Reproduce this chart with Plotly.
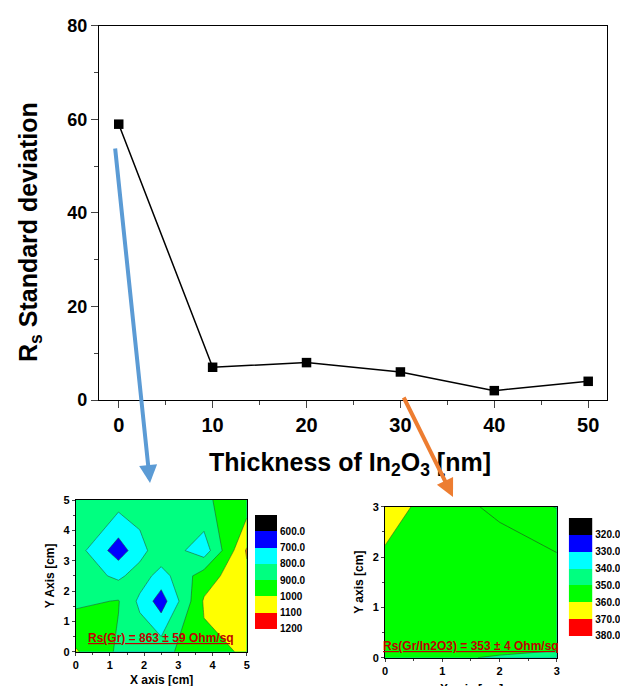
import plotly.graph_objects as go

# ---------------- data ----------------
thickness = [0, 10, 20, 30, 40, 50]
rs_std = [59, 7, 8, 6, 2, 4]

# Rs map of bare graphene (values in Ohm/sq)
gr_x = [0, 1.25, 1.875, 2.5, 3.75, 5]
gr_y = [0, 1.667, 2.5, 3.333, 5]
gr_z = [
    [1010, 885, 875, 864, 980, 1008],
    [880, 905, 778, 650, 1010, 1050],
    [864, 778, 850, 760, 950, 1080],
    [847, 650, 760, 870, 745, 1110],
    [850, 847, 858, 870, 890, 938],
]
gr_levels = [600, 700, 800, 900, 1000, 1100, 1200]
gr_labels = ["600.0", "700.0", "800.0", "900.0", "1000", "1100", "1200"]
gr_text = "Rs(Gr) = 863 \u00b1 59 Ohm/sq"

# Rs map of graphene / In2O3
ito_x = [0, 1, 2, 3]
ito_y = [0, 1, 2, 3]
ito_z = [
    [353, 350.5, 349.7, 349.2],
    [356, 356, 355.7, 355],
    [359.7, 359, 359.5, 355.5],
    [361, 358.8, 353, 349.8],
]
ito_levels = [320, 330, 340, 350, 360, 370, 380]
ito_labels = ["320.0", "330.0", "340.0", "350.0", "360.0", "370.0", "380.0"]
ito_text = "Rs(Gr/In2O3) = 353 \u00b1 4 Ohm/sq"

band_colors = ["#000000", "#0000FF", "#00FFFF", "#00FF80", "#00FF00", "#FFFF00", "#FF0000"]

# ---------------- helpers ----------------
FONT = "Liberation Sans, Arial, sans-serif"
n = len(band_colors)
cscale = []
for i, c in enumerate(band_colors):
    lo = max(0.0, (i - 0.5) / (n - 1))
    hi = min(1.0, (i + 0.5) / (n - 1))
    cscale += [[lo, c], [hi, c]]


def band_edges(levels):
    step = levels[1] - levels[0]
    return [levels[0] - step] + list(levels)


def band_centers(levels):
    e = band_edges(levels)
    return [[(e[i] + e[i + 1]) / 2] for i in range(len(e) - 1)]


fig = go.Figure()

# main line chart
fig.add_trace(go.Scatter(
    x=thickness, y=rs_std, mode="lines+markers",
    line=dict(color="black", width=1.5),
    marker=dict(symbol="square", size=9.5, color="black"),
    xaxis="x", yaxis="y", showlegend=False, cliponaxis=False))

LINE = dict(color="rgba(40,70,40,0.75)", width=0.7, smoothing=0)

# left contour map
fig.add_trace(go.Contour(
    x=gr_x, y=gr_y, z=gr_z, xaxis="x2", yaxis="y2",
    colorscale=cscale, zmin=gr_levels[0], zmax=gr_levels[-2],
    contours=dict(start=gr_levels[0], end=gr_levels[-2],
                  size=gr_levels[1] - gr_levels[0], coloring="fill"),
    line=LINE, showscale=False, hoverinfo="skip"))

# left legend boxes
fig.add_trace(go.Heatmap(
    x=[0, 1], y=band_edges(gr_levels), z=band_centers(gr_levels),
    xaxis="x3", yaxis="y3", colorscale=cscale,
    zmin=band_centers(gr_levels)[0][0], zmax=band_centers(gr_levels)[-1][0],
    showscale=False, hoverinfo="skip"))

# right contour map
fig.add_trace(go.Contour(
    x=ito_x, y=ito_y, z=ito_z, xaxis="x4", yaxis="y4",
    colorscale=cscale, zmin=ito_levels[0], zmax=ito_levels[-2],
    contours=dict(start=ito_levels[0], end=ito_levels[-2],
                  size=ito_levels[1] - ito_levels[0], coloring="fill"),
    line=LINE, showscale=False, hoverinfo="skip"))

# intermediate iso-line (355) in the upper part of the right map
mid_level = (ito_levels[3] + ito_levels[4]) / 2
fig.add_trace(go.Contour(
    x=ito_x, y=ito_y[2:], z=ito_z[2:], xaxis="x4", yaxis="y4",
    contours=dict(start=mid_level, end=mid_level, size=10, coloring="none"),
    line=dict(color="rgba(30,90,30,0.85)", width=0.8, smoothing=0),
    showscale=False, hoverinfo="skip"))

# right legend boxes
fig.add_trace(go.Heatmap(
    x=[0, 1], y=band_edges(ito_levels), z=band_centers(ito_levels),
    xaxis="x5", yaxis="y5", colorscale=cscale,
    zmin=band_centers(ito_levels)[0][0], zmax=band_centers(ito_levels)[-1][0],
    showscale=False, hoverinfo="skip"))


def bold(s):
    return dict(family=FONT, size=s, color="black", weight="bold")


main_x = dict(domain=[0.1597, 0.979], range=[-2.1, 52.0], anchor="y", automargin=False,
              tickmode="array", tickvals=thickness, ticks="outside", ticklen=7,
              tickwidth=1.2, minor=dict(dtick=5, ticks="outside", ticklen=4, tickwidth=1.2),
              showline=True, mirror=True, linecolor="black", linewidth=1.3,
              showgrid=False, zeroline=False, tickfont=bold(20))
main_y = dict(domain=[0.4169, 0.9621], range=[0, 80], anchor="x", automargin=False,
              dtick=20, ticks="outside", ticklen=7, tickwidth=1.2,
              minor=dict(dtick=10, ticks="outside", ticklen=4, tickwidth=1.2),
              showline=True, mirror=True, linecolor="black", linewidth=1.3,
              showgrid=False, zeroline=False, tickfont=bold(18))


def inset_axes(dom_x, dom_y, rng, anchor_x, anchor_y, yt):
    common = dict(ticks="outside", ticklen=3, tickwidth=1, dtick=1, automargin=False,
                  minor=dict(dtick=0.5, ticks="outside", ticklen=2),
                  showline=True, mirror=True, linecolor="black", linewidth=1,
                  showgrid=False, zeroline=False, tickfont=bold(11))
    ax = dict(common, domain=dom_x, range=rng, anchor=anchor_y)
    ay = dict(common, domain=dom_y, range=rng, anchor=anchor_x,
              title=dict(text="<b>%s</b>" % yt, font=bold(12), standoff=6))
    return ax, ay


x2, y2 = inset_axes([0.1221, 0.3979], [0.05, 0.2711], [0, 5], "x2", "y2", "Y Axis [cm]")
x4, y4 = inset_axes([0.621, 0.8979], [0.0413, 0.2614], [0, 3], "x4", "y4", "Y axis [cm]")


def legend_axes(dom_x, dom_y, levels, labels, anchor_x, anchor_y):
    e = band_edges(levels)
    ax = dict(domain=dom_x, range=[0, 1], anchor=anchor_y, visible=False, automargin=False)
    ay = dict(domain=dom_y, range=[e[-1], e[0]], anchor=anchor_x, side="right",
              tickmode="array", tickvals=levels, ticktext=labels, ticks="",
              showline=False, showgrid=False, zeroline=False, tickfont=bold(10),
              ticklabelstandoff=2, automargin=False)
    return ax, ay


x3, y3 = legend_axes([0.4113, 0.4468], [0.0831, 0.2493], gr_levels, gr_labels, "x3", "y3")
x5, y5 = legend_axes([0.9173, 0.9553], [0.0729, 0.2449], ito_levels, ito_labels, "x5", "y5")

annotations = [
    # main axis titles
    dict(text="<b>Thickness of In<sub>2</sub>O<sub>3</sub> [nm]</b>", xref="paper", yref="paper",
         x=350 / 620, y=1 - 464 / 686, showarrow=False, font=bold(25),
         xanchor="center", yanchor="middle"),
    dict(text="<b>R<sub>s</sub> Standard deviation</b>", xref="paper", yref="paper",
         x=30 / 620, y=1 - 232 / 686, showarrow=False, font=bold(25), textangle=-90,
         xanchor="center", yanchor="middle"),
    # inset x titles
    dict(text="<b>X axis [cm]</b>", xref="paper", yref="paper",
         x=161 / 620, y=1 - 680 / 686, showarrow=False, font=bold(12),
         xanchor="center", yanchor="middle"),
    dict(text="<b>X axis [cm]</b>", xref="paper", yref="paper",
         x=472 / 620, y=1 - 680 / 686, showarrow=False, font=bold(12),
         xanchor="center", yanchor="top"),
    # inset captions
    dict(text="<b><u>%s</u></b>" % gr_text, xref="x2", yref="y2", x=2.5, y=0.45,
         showarrow=False, font=dict(family=FONT, size=12, color="#C00000")),
    dict(text="<b><u>%s</u></b>" % ito_text, xref="x4", yref="y4", x=1.5, y=0.24,
         showarrow=False, font=dict(family=FONT, size=12, color="#C00000")),
    # arrows
    dict(text="", xref="paper", yref="paper", x=150 / 620, y=1 - 483 / 686,
         ax=-35, ay=-336, axref="pixel", ayref="pixel", showarrow=True,
         arrowhead=2, arrowsize=0.9, arrowwidth=4, arrowcolor="#5B9BD5", standoff=0),
    dict(text="", xref="paper", yref="paper", x=453 / 620, y=1 - 497 / 686,
         ax=-50, ay=-101, axref="pixel", ayref="pixel", showarrow=True,
         arrowhead=2, arrowsize=0.9, arrowwidth=4, arrowcolor="#ED7D31", standoff=0),
]

fig.update_layout(
    width=620, height=686, margin=dict(l=0, r=0, t=0, b=0, autoexpand=False),
    paper_bgcolor="white", plot_bgcolor="white",
    font=dict(family=FONT, color="black"),
    xaxis=main_x, yaxis=main_y,
    xaxis2=x2, yaxis2=y2, xaxis3=x3, yaxis3=y3,
    xaxis4=x4, yaxis4=y4, xaxis5=x5, yaxis5=y5,
    annotations=annotations, showlegend=False,
)

fig.write_html("out.html", config={"displayModeBar": False},
               post_script="document.body.style.margin='0px';")
